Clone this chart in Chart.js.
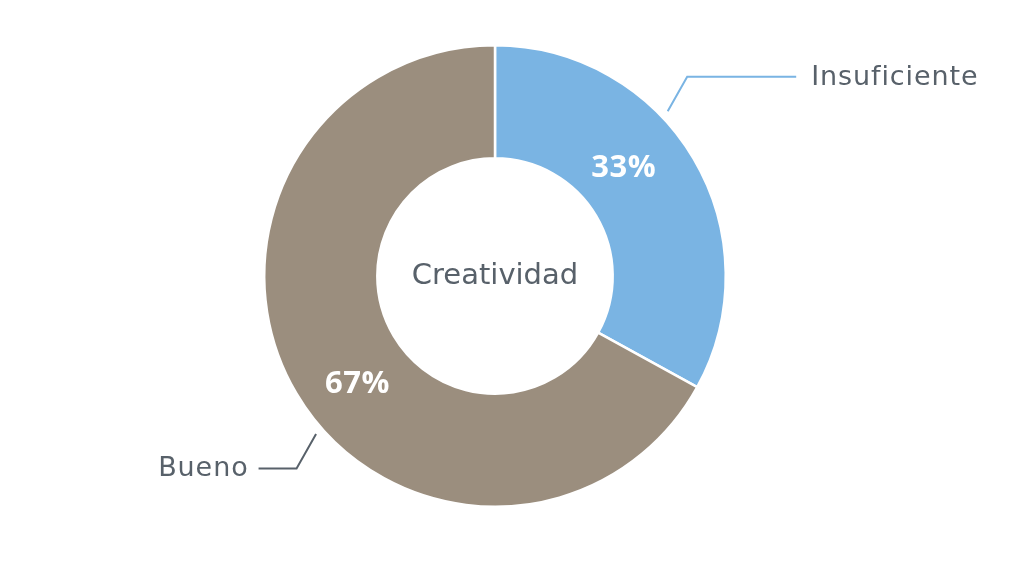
<!DOCTYPE html>
<html>
<head>
<meta charset="utf-8">
<script src="https://cdn.jsdelivr.net/npm/chart.js@4.4.1/dist/chart.umd.min.js"></script>
<style>
html,body{margin:0;padding:0;background:#fff;}
#wrap{width:1024px;height:587px;position:relative;}
</style>
</head>
<body>
<div id="wrap"><canvas id="c" width="1024" height="587"></canvas></div>
<script>
const categories = ["Insuficiente", "Bueno"];
const values = [33, 67];
const percentLabels = ["33%", "67%"];
const centerTitle = "Creatividad";

const sliceColors = ["#7ab4e3", "#9b8e7e"];
const leaderColors = ["#7ab4e3", "#58616a"];
const textColor = "#58616a";
// fraction of each slice's angular span where leader / percent label sit
const leaderFrac = [0.39, 0.455];
const pctFrac = [0.42, 0.47];
const pctRadiusShift = [-6, 0];

const labelPlugin = {
  id: 'labelPlugin',
  afterDraw(chart) {
    const ctx = chart.ctx;
    const meta = chart.getDatasetMeta(0);
    ctx.save();
    meta.data.forEach((arc, i) => {
      const {x, y, startAngle, endAngle, outerRadius, innerRadius} = arc.getProps(['x','y','startAngle','endAngle','outerRadius','innerRadius'], true);
      // percent label
      const pa = startAngle + (endAngle - startAngle) * pctFrac[i];
      const pr = (outerRadius + innerRadius) / 2 + pctRadiusShift[i];
      ctx.fillStyle = '#ffffff';
      ctx.letterSpacing = '0.5px';
      ctx.font = 'bold 31px "Open Sans", sans-serif';
      ctx.textAlign = 'center';
      ctx.textBaseline = 'middle';
      ctx.fillText(percentLabels[i], x + Math.cos(pa) * pr, y + Math.sin(pa) * pr + 1);
      // leader line
      const la = startAngle + (endAngle - startAngle) * leaderFrac[i];
      const lr = outerRadius + 8;
      const sx = x + Math.cos(la) * lr, sy = y + Math.sin(la) * lr;
      const right = Math.cos(la) >= 0;
      const ex = sx + (right ? 19.5 : -19.5);
      const ey = sy + (Math.sin(la) < 0 ? -34.5 : 34.5);
      const hx = ex + (right ? 109 : -38);
      ctx.strokeStyle = leaderColors[i];
      ctx.lineWidth = 2;
      ctx.beginPath();
      ctx.moveTo(sx, sy);
      ctx.lineTo(ex, ey);
      ctx.lineTo(hx, ey);
      ctx.stroke();
      ctx.fillStyle = textColor;
      ctx.letterSpacing = '0.9px';
      ctx.font = '27px "DejaVu Sans", sans-serif';
      ctx.textAlign = right ? 'left' : 'right';
      ctx.fillText(categories[i], hx + (right ? 15 : -10), ey + (right ? 1 : 0));
    });
    // center title
    const a0 = meta.data[0];
    ctx.fillStyle = textColor;
    ctx.letterSpacing = '0px';
    ctx.font = '29px "DejaVu Sans", sans-serif';
    ctx.textAlign = 'center';
    ctx.textBaseline = 'middle';
    ctx.fillText(centerTitle, a0.x, a0.y);
    ctx.restore();
  }
};

new Chart(document.getElementById('c'), {
  type: 'doughnut',
  data: {
    labels: categories,
    datasets: [{
      data: values,
      backgroundColor: sliceColors,
      borderColor: '#ffffff',
      borderWidth: 2.5,
      hoverOffset: 0
    }]
  },
  options: {
    responsive: false,
    animation: false,
    cutout: '51%',
    layout: { padding: { top: 44, bottom: 79, left: 0, right: 34 } },
    plugins: {
      legend: { display: false },
      tooltip: { enabled: false }
    }
  },
  plugins: [labelPlugin]
});
</script>
</body>
</html>
